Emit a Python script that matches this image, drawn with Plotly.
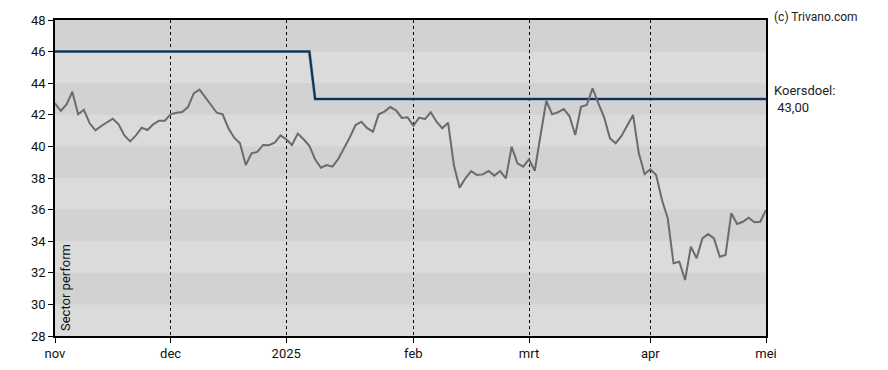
import plotly.graph_objects as go

# Trading-day index and closing prices
price = [42.73, 42.24, 42.66, 43.46, 42.03, 42.32, 41.46, 41.02, 41.29, 41.54,
         41.75, 41.40, 40.70, 40.32, 40.70, 41.18, 41.04, 41.40, 41.63, 41.63,
         42.03, 42.13, 42.18, 42.49, 43.36, 43.59, 43.11, 42.68, 42.13, 42.03,
         41.15, 40.55, 40.20, 38.82, 39.56, 39.65, 40.09, 40.07, 40.23, 40.70,
         40.45, 40.09, 40.81, 40.45, 40.04, 39.18, 38.65, 38.82, 38.72, 39.20,
         39.88, 40.57, 41.35, 41.56, 41.15, 40.93, 42.03, 42.20, 42.49, 42.28,
         41.80, 41.84, 41.31, 41.82, 41.73, 42.16, 41.56, 41.15, 41.50, 38.82,
         37.39, 37.98, 38.44, 38.19, 38.23, 38.44, 38.15, 38.44, 37.98, 39.98,
         38.93, 38.72, 39.18, 38.46, 40.72, 42.89, 42.03, 42.16, 42.37, 41.92,
         40.72, 42.51, 42.62, 43.68, 42.73, 41.84, 40.51, 40.20, 40.66, 41.31,
         41.99, 39.56, 38.25, 38.55, 38.19, 36.61, 35.45, 32.60, 32.70, 31.54,
         33.65, 32.92, 34.18, 34.46, 34.18, 33.02, 33.13, 35.77, 35.09, 35.23,
         35.49, 35.20, 35.23, 35.97]
day_idx = list(range(len(price)))

# Analyst price target (koersdoel) steps
target_idx = [0, 44, 45, 123]
target_val = [46.0, 46.0, 43.0, 43.0]

# Month tick labels at trading-day positions
tick_idx = [0, 20, 40, 62, 82, 103, 123]
tick_labels = ["nov", "dec", "2025", "feb", "mrt", "apr", "mei"]

y_min, y_max = 28, 48
band_lows = [30, 34, 38, 42, 46]  # darker bands

fig = go.Figure()

for lo in band_lows:
    fig.add_shape(type="rect", xref="paper", yref="y", x0=0, x1=1, y0=lo, y1=lo + 2,
                  fillcolor="#d2d2d2", line_width=0, layer="below")

fig.add_trace(go.Scatter(x=target_idx, y=target_val, mode="lines",
                         line=dict(color="#7d95ab", width=3), hoverinfo="skip",
                         showlegend=False))
fig.add_trace(go.Scatter(x=target_idx, y=target_val, mode="lines",
                         line=dict(color="#0f3355", width=2), showlegend=False))
fig.add_trace(go.Scatter(x=day_idx, y=price, mode="lines",
                         line=dict(color="#6b6b6b", width=2), showlegend=False))

font_family = "Roboto, Liberation Sans, Arial, sans-serif"

# page body has an 8px margin on every side, so the figure is sized to fit inside
fig.update_layout(
    width=872, height=354,
    margin=dict(l=47, r=114, t=12, b=26, autoexpand=False),
    paper_bgcolor="white",
    plot_bgcolor="#dbdbdb",
    font=dict(family=font_family, size=13, color="#111111"),
    xaxis=dict(range=[0, 123], tickmode="array", tickvals=tick_idx, ticktext=tick_labels,
               automargin=False,
               showgrid=True, gridcolor="#000000", gridwidth=1, griddash="dot",
               zeroline=False, showline=True, linecolor="#000000", linewidth=1.5,
               mirror=True, ticks="outside", ticklen=5, tickcolor="#000000",
               tickfont=dict(size=13)),
    yaxis=dict(range=[y_min, y_max], tickmode="linear", tick0=28, dtick=2,
               automargin=False,
               showgrid=False, zeroline=False, showline=True, linecolor="#000000",
               linewidth=1.5, mirror=True, ticks="outside", ticklen=5,
               tickcolor="#000000", tickfont=dict(size=13)),
    annotations=[
        dict(text="(c) Trivano.com", xref="paper", yref="paper", x=1, y=1,
             xanchor="left", yanchor="top", xshift=6, yshift=12, showarrow=False,
             font=dict(size=12, color="#222222")),
        dict(text="Koersdoel:<br> 43,00", xref="paper", yref="y", x=1, y=43,
             xanchor="left", yanchor="middle", xshift=6, showarrow=False, align="left",
             font=dict(size=13, color="#222222")),
        dict(text="Sector perform", xref="x", yref="y", x=0, y=28, textangle=-90,
             xanchor="left", yanchor="bottom", xshift=1, yshift=3, showarrow=False,
             font=dict(size=13, color="#111111")),
    ],
)

fig.write_html("out.html")
